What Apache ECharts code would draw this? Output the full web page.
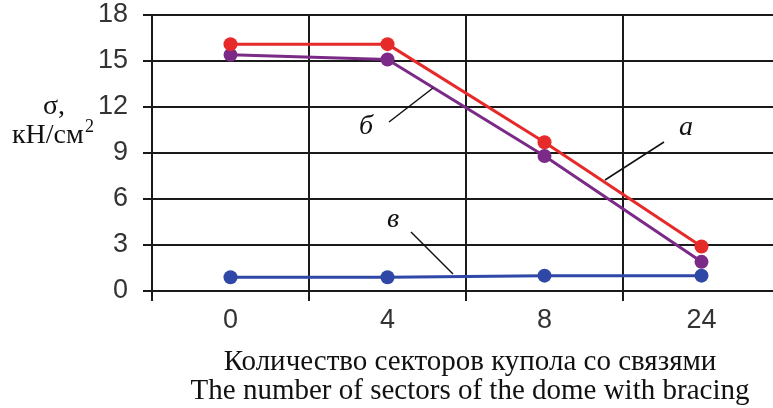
<!DOCTYPE html>
<html><head><meta charset="utf-8">
<script src="https://cdn.jsdelivr.net/npm/echarts@6/dist/echarts.min.js"></script>
<style>html,body{margin:0;padding:0;background:#fff}#c{width:773px;height:408px}</style>
</head><body><div id="c"></div>
<script>
var categories = ['0', '4', '8', '24'];
var seriesA = [16.1, 16.1, 9.7, 2.9];   // а (red)
var seriesB = [15.4, 15.1, 8.8, 1.9];   // б (purple)
var seriesV = [0.9, 0.9, 1.0, 1.0];     // в (blue)
var yMin = 0, yMax = 18, yStep = 3;
var xTitleRu = 'Количество секторов купола со связями';
var xTitleEn = 'The number of sectors of the dome with bracing';

var chart = echarts.init(document.getElementById('c'), null, {renderer: 'canvas'});
var gridColor = '#1a1a1a';
var serif = 'Liberation Serif';
function line(name, data, color) {
  return {
    name: name, type: 'line', data: data, symbol: 'circle', symbolSize: 14,
    lineStyle: {color: color, width: 3}, itemStyle: {color: color},
    z: 5, animation: false
  };
}
function txt(x, y, text, size, italic, align) {
  return {type: 'text', x: x, y: y, z: 10, style: {
    text: text, fontFamily: serif, fontSize: size, fontStyle: italic ? 'italic' : 'normal',
    fill: '#111', textAlign: align || 'center', textVerticalAlign: 'middle'}};
}
chart.setOption({
  animation: false,
  grid: {left: 152, top: 15, width: 628, height: 276, containLabel: false, outerBoundsMode: 'none'},
  xAxis: {
    type: 'category', data: categories, boundaryGap: true,
    axisLine: {show: true, lineStyle: {color: gridColor, width: 2}},
    axisTick: {show: true, length: 10, lineStyle: {color: gridColor, width: 2}},
    splitLine: {show: true, lineStyle: {color: gridColor, width: 2}},
    axisLabel: {fontFamily: 'Liberation Sans', fontSize: 27, color: '#333', margin: 16}
  },
  yAxis: {
    type: 'value', min: yMin, max: yMax, interval: yStep,
    axisLine: {show: true, lineStyle: {color: gridColor, width: 2}},
    axisTick: {show: true, length: 9, lineStyle: {color: gridColor, width: 2}},
    splitLine: {show: true, lineStyle: {color: gridColor, width: 2}},
    axisLabel: {fontFamily: 'Liberation Sans', fontSize: 27, color: '#333', margin: 24}
  },
  series: [
    line('в', seriesV, '#2f47a6'),
    line('б', seriesB, '#7b2a87'),
    line('а', seriesA, '#e62a2a')
  ],
  graphic: [
    txt(43, 107, 'σ,', 28, false, 'left'),
    txt(12, 136, 'кН/см', 28, false, 'left'),
    txt(85, 127, '2', 18, false, 'left'),
    txt(470, 362, xTitleRu, 29),
    txt(470, 391, xTitleEn, 29),
    txt(366, 127, 'б', 28, true),
    txt(393, 220, 'в', 28, true),
    txt(686, 128, 'а', 28, true),
    {type: 'line', shape: {x1: 389, y1: 122, x2: 433, y2: 88}, style: {stroke: '#111', lineWidth: 1.5}, z: 10},
    {type: 'line', shape: {x1: 411, y1: 232, x2: 453, y2: 274}, style: {stroke: '#111', lineWidth: 1.5}, z: 10},
    {type: 'line', shape: {x1: 664, y1: 142, x2: 605, y2: 180}, style: {stroke: '#111', lineWidth: 1.5}, z: 10}
  ]
});
</script></body></html>
